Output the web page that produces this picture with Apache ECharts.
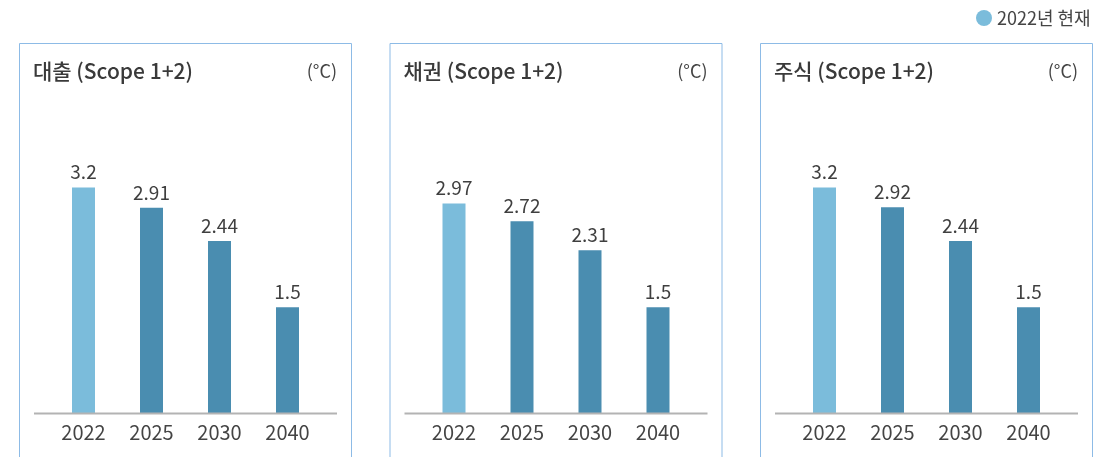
<!DOCTYPE html>
<html>
<head>
<meta charset="utf-8">
<script src="https://cdn.jsdelivr.net/npm/echarts@6/dist/echarts.min.js"></script>
<style>
  html, body { margin: 0; padding: 0; background: #fff; }
  #main { width: 1114px; height: 457px; }
</style>
</head>
<body>
<div id="main"></div>
<script>
// 데이터
var years = ['2022', '2025', '2030', '2040'];
var panelTitles = ['대출 (Scope 1+2)', '채권 (Scope 1+2)', '주식 (Scope 1+2)'];
var loanValues = [3.2, 2.91, 2.44, 1.5];
var bondValues = [2.97, 2.72, 2.31, 1.5];
var stockValues = [3.2, 2.92, 2.44, 1.5];
var legendLabel = '2022년 현재';

var allValues = [loanValues, bondValues, stockValues];
var panelLeft = [19, 389.5, 760];
var panelWidth = 333;
var lightColor = '#7bbcdb';
var darkColor = '#4a8db0';
var font = '"Noto Sans CJK KR", "Noto Sans", sans-serif';

const myChart = echarts.init(document.getElementById('main'));

var grids = [], xAxes = [], yAxes = [], series = [], graphics = [];

for (var i = 0; i < 3; i++) {
  var px = panelLeft[i];
  grids.push({
    left: px + 30.5,
    width: 272,
    top: 131,
    height: 282
  });
  xAxes.push({
    type: 'category',
    gridIndex: i,
    data: years,
    axisLine: { show: false },
    axisTick: { show: false },
    axisLabel: {
      color: '#444',
      fontSize: 20,
      fontFamily: font,
      margin: 9
    }
  });
  yAxes.push({
    type: 'value',
    gridIndex: i,
    min: 0,
    max: 4,
    show: false
  });
  series.push({
    type: 'bar',
    xAxisIndex: i,
    yAxisIndex: i,
    barWidth: 23,
    data: allValues[i].map(function (v, k) {
      return { value: v, itemStyle: { color: k === 0 ? lightColor : darkColor } };
    }),
    label: {
      show: true,
      position: 'top',
      distance: 6,
      color: '#3f3f3f',
      fontSize: 19,
      fontFamily: font
    }
  });

  // 패널 테두리
  graphics.push({
    type: 'polyline',
    shape: { points: [[px + 0.5, 470], [px + 0.5, 43.5], [px + panelWidth - 0.5, 43.5], [px + panelWidth - 0.5, 470]] },
    style: { stroke: '#8dbbe6', lineWidth: 1, fill: null },
    silent: true
  });
  // 기준선
  graphics.push({
    type: 'line',
    shape: { x1: px + 15, y1: 413.5, x2: px + 318, y2: 413.5 },
    style: { stroke: '#b3b3b3', lineWidth: 2 },
    z: 10,
    silent: true
  });
  graphics.push({
    type: 'text',
    x: px + 14,
    y: 71,
    style: {
      text: panelTitles[i],
      fill: '#3a3a3a',
      font: '500 21px ' + font,
      textVerticalAlign: 'middle'
    }
  });
  graphics.push({
    type: 'text',
    x: px + 318,
    y: 71,
    style: {
      text: '(°C)',
      fill: '#444',
      font: '18px ' + font,
      textAlign: 'right',
      textVerticalAlign: 'middle'
    }
  });
}

// 범례
graphics.push({
  type: 'circle',
  shape: { cx: 984, cy: 18, r: 8 },
  style: { fill: lightColor }
});
graphics.push({
  type: 'text',
  x: 997,
  y: 18,
  style: {
    text: legendLabel,
    fill: '#444',
    font: '18px ' + font,
    textVerticalAlign: 'middle'
  }
});

var option = {
  backgroundColor: '#ffffff',
  animation: false,
  grid: grids,
  xAxis: xAxes,
  yAxis: yAxes,
  series: series,
  graphic: graphics
};

myChart.setOption(option);
</script>
</body>
</html>
